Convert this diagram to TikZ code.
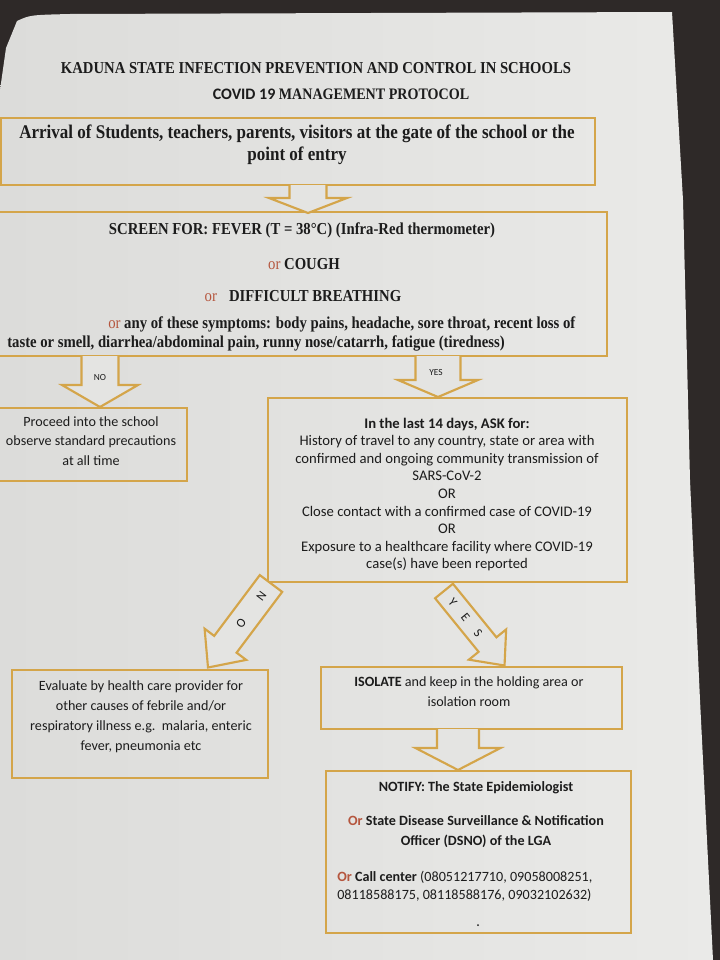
\documentclass[tikz,border=0pt]{standalone}
\usepackage{fontspec}
\setmainfont{Liberation Serif}[FakeStretch=0.88]
\newfontfamily\calfont{Carlito}
\usetikzlibrary{fit}
\definecolor{gold}{HTML}{D4A54A}
\definecolor{orred}{HTML}{B5563E}
\definecolor{ink}{HTML}{1C1C1C}
\definecolor{pageL}{HTML}{DCDCDA}
\definecolor{pageR}{HTML}{EAEAE8}
\definecolor{pagec}{HTML}{E4E4E2}
\definecolor{darkbg}{HTML}{2E2928}
\newcommand\orr[1]{{\mdseries\textcolor{orred}{#1}}}
\newcommand\dnarrow[6]{\draw[barrow] (#1-#4,#2) -- (#1-#4,#6) -- (#1-#5,#6) -- (#1,#3) -- (#1+#5,#6) -- (#1+#4,#6) -- (#1+#4,#2);}
\begin{document}
\begin{tikzpicture}[x=0.75pt,y=-0.75pt,
  box/.style={draw=gold, line width=1.6pt, inner sep=0pt},
  barrow/.style={draw=gold, line width=1.6pt, fill=pagec, line join=miter},
  txt/.style={text=ink, inner sep=0pt, align=center},
  serif/.style={font=\bfseries\fontsize{#1}{15}\selectfont},
  cal/.style={font=\calfont\fontsize{10.6}{#1}\selectfont},
  calb/.style={font=\calfont\bfseries\fontsize{10.6}{#1}\selectfont},
  diag/.style={text=ink, inner sep=0pt, font=\calfont\fontsize{9.5}{11}\selectfont, transform shape}]
\useasboundingbox (0,0) rectangle (720,960);
\fill[darkbg] (0,0) rectangle (720,960);
\shade[left color=pageL, right color=pageR] (0,90) -- (6,48) -- (17,21) .. controls (30,15) .. (70,14) -- (672,12) -- (683,200) -- (690,480) -- (700,700) -- (713,960) -- (0,960) -- cycle;
% boxes
\node[box, fit={(1,118) (595,185)}] (b1) {};
\node[box, fit={(-2,212) (607,356)}] (b2) {};
\node[box, fit={(-2,408) (187,481)}] (b3) {};
\node[box, fit={(268,398) (627,582)}] (b4) {};
\node[box, fit={(12,670) (268,778)}] (b5) {};
\node[box, fit={(321,667) (622,729)}] (b6) {};
\node[box, fit={(326,771) (631,933)}] (b7) {};
% block arrows
\dnarrow{308}{185}{213}{18.5}{39}{198}
\dnarrow{100}{356}{407}{18.5}{38}{385}
\dnarrow{438}{356}{397}{22.5}{40}{380}
\dnarrow{458}{729}{770}{21}{42.5}{748}
\begin{scope}[shift={(271,583.5)}, rotate=233.13]
  \draw[barrow] (0,-14) -- (76,-14) -- (76,-26) -- (105,0) -- (76,26) -- (76,14) -- (0,14) -- cycle;
  \node[diag] (dn1) at (16,0) {N};
  \node[diag] (dn2) at (50,0) {O};
\end{scope}
\begin{scope}[shift={(444,591)}, rotate=-50.9]
  \draw[barrow] (0,-11.5) -- (69,-11.5) -- (69,-24) -- (96,0) -- (69,24) -- (69,11.5) -- (0,11.5) -- cycle;
  \node[diag] (dy1) at (14,0) {Y};
  \node[diag] (dy2) at (34,0) {E};
  \node[diag] (dy3) at (54,0) {S};
\end{scope}
% titles
\node[txt, serif=12.5] (t1) at (316,68) {KADUNA STATE INFECTION PREVENTION AND CONTROL IN SCHOOLS};
\node[txt, serif=12] (t2) at (341,94) {{\calfont COVID 19} MANAGEMENT PROTOCOL};
% box 1
\node[txt, font=\bfseries\fontsize{14.5}{16.5}\selectfont] (t3) at (297,145) {Arrival of Students, teachers, parents, visitors at the gate of the school or the\\point of entry};
% box 2
\node[txt, serif=12.55] (t4) at (302,230) {SCREEN FOR: FEVER (T = 38°C) (Infra-Red thermometer)};
\node[txt, serif=12.55] (t5) at (304,264) {\orr{or} COUGH};
\node[txt, serif=12.55] (t6) at (303,296) {\orr{or}\enspace\ DIFFICULT BREATHING};
\node[txt, serif=12.55, anchor=west] (t7) at (108,324) {\orr{or} any of these symptoms: body pains, headache, sore throat, recent loss of};
\node[txt, serif=12.55, anchor=west] (t8) at (7,343) {taste or smell, diarrhea/abdominal pain, runny nose/catarrh, fatigue (tiredness)};
% arrow labels
\node[txt, font=\calfont\fontsize{7}{8}\selectfont] (lno) at (100,377) {NO};
\node[txt, font=\calfont\fontsize{7}{8}\selectfont] (lyes) at (436,372) {YES};
% box 3
\node[txt, cal=14.6] (t9) at (91,441) {Proceed into the school\\observe standard precautions\\at all time};
% box 4
\node[txt, font=\calfont\fontsize{11}{13.2}\selectfont] (t10) at (447,494.5) {{\bfseries In the last 14 days, ASK for:}\\History of travel to any country, state or area with\\confirmed and ongoing community transmission of\\SARS-CoV-2\\OR\\Close contact with a confirmed case of COVID-19\\OR\\Exposure to a healthcare facility where COVID-19\\case(s) have been reported};
% box 5
\node[txt, cal=15] (t11) at (141,717) {Evaluate by health care provider for\\other causes of febrile and/or\\respiratory illness e.g.\ \ malaria, enteric\\fever, pneumonia etc};
% box 6
\node[txt, cal=15] (t12) at (469,692) {{\bfseries ISOLATE} and keep in the holding area or\\isolation room};
% box 7
\node[txt, calb=15] (t13) at (476,788) {NOTIFY: The State Epidemiologist};
\node[txt, calb=15] (t14) at (476,832) {\textcolor{orred}{Or} State Disease Surveillance \& Notification\\Officer (DSNO) of the LGA};
\node[txt, cal=13.5, anchor=west, align=left] (t15) at (337,886) {{\bfseries\textcolor{orred}{Or} Call center} (08051217710, 09058008251,\\08118588175, 08118588176, 09032102632)};
\fill[ink] (478,925) circle[radius=1];
\end{tikzpicture}
\end{document}
